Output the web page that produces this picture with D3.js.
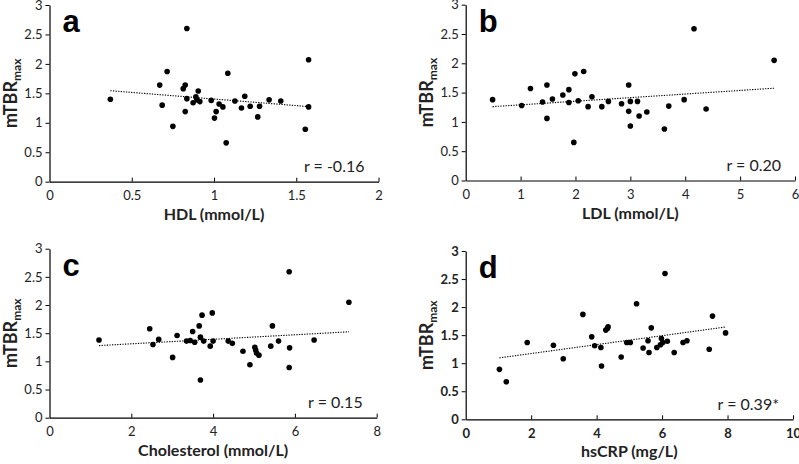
<!DOCTYPE html>
<html><head><meta charset="utf-8">
<script src="https://cdn.jsdelivr.net/npm/d3@7"></script>
<style>
html,body{margin:0;padding:0;background:#fff;}
svg text{font-family:Lato,"Open Sans",sans-serif;}
</style></head>
<body><svg id="c" width="799" height="464"></svg>
<script>
// ---- data ----
const yTicks = [0, 0.5, 1, 1.5, 2, 2.5, 3];
const yTickLabels = ["0", "0.5", "1", "1.5", "2", "2.5", "3"];

const hdlX = [0.37,0.67,0.685,0.715,0.75,0.835,0.813,0.825,0.825,0.835,0.873,0.904,0.89,0.896,0.914,0.983,1.003,1.013,1.031,1.054,1.074,1.084,1.127,1.167,1.187,1.22,1.266,1.277,1.335,1.406,1.555,1.575,1.575];
const hdlY = [1.40,1.64,1.30,1.87,0.94,2.60,1.58,1.64,1.19,1.41,1.34,1.54,1.44,1.39,1.36,1.38,1.08,1.19,1.32,1.27,0.66,1.84,1.37,1.25,1.45,1.28,1.10,1.28,1.39,1.37,0.89,2.07,1.27];
const hdlTicks = [0, 0.5, 1, 1.5, 2];
const hdlTickLabels = ["0", "0.5", "1", "1.5", "2"];
const hdlTrend = [[0.37, 1.545], [1.575, 1.275]];

const ldlX = [0.49,1.02,1.18,1.40,1.48,1.48,1.58,1.77,1.88,1.88,1.97,1.99,2.05,2.15,2.23,2.30,2.48,2.60,2.84,2.97,2.97,3.00,3.00,3.13,3.16,3.30,3.62,3.70,3.98,4.16,4.38,5.62];
const ldlY = [1.38,1.28,1.57,1.34,1.63,1.06,1.39,1.46,1.55,1.33,0.65,1.82,1.36,1.86,1.26,1.43,1.26,1.35,1.31,1.63,1.18,1.35,0.93,1.35,1.10,1.17,0.88,1.27,1.38,2.59,1.22,2.05];
const ldlTicks = [0, 1, 2, 3, 4, 5, 6];
const ldlTickLabels = ["0", "1", "2", "3", "4", "5", "6"];
const ldlTrend = [[0.49, 1.26], [5.62, 1.575]];

const cholX = [1.21,2.45,2.53,2.67,3.01,3.12,3.35,3.44,3.50,3.55,3.66,3.69,3.69,3.73,3.77,3.93,3.98,4.00,4.37,4.47,4.73,4.90,5.02,5.04,5.06,5.12,5.41,5.45,5.60,5.86,5.87,5.86,6.47,7.32];
const cholY = [1.38,1.58,1.30,1.39,1.07,1.46,1.36,1.37,1.53,1.34,1.63,0.67,1.43,1.82,1.36,1.27,1.86,1.36,1.36,1.32,1.18,0.94,1.25,1.20,1.15,1.11,1.27,1.63,1.36,2.59,1.24,0.89,1.38,2.05];
const cholTicks = [0, 2, 4, 6, 8];
const cholTickLabels = ["0", "2", "4", "6", "8"];
const cholTrend = [[1.21, 1.28], [7.32, 1.525]];

const crpX = [1.03,1.24,1.88,2.68,2.98,3.58,3.85,3.94,4.13,4.15,4.28,4.35,4.33,4.75,4.92,5.03,5.22,5.42,5.57,5.60,5.67,5.84,5.95,5.98,6.02,6.09,6.16,6.37,6.64,6.76,7.44,7.54,7.94];
const crpY = [0.89,0.67,1.37,1.32,1.08,1.87,1.47,1.31,1.28,0.95,1.59,1.65,1.62,1.11,1.37,1.37,2.06,1.27,1.40,1.19,1.63,1.28,1.33,1.44,1.37,2.60,1.39,1.19,1.37,1.40,1.25,1.84,1.54];
const crpTicks = [0, 2, 4, 6, 8, 10];
const crpTickLabels = ["0", "2", "4", "6", "8", "10"];
const crpTrend = [[1.03, 1.095], [7.94, 1.645]];

const panelLetters = ["a", "b", "c", "d"];
const xTitles = ["HDL (mmol/L)", "LDL (mmol/L)", "Cholesterol (mmol/L)", "hsCRP (mg/L)"];
const rLabels = ["r = -0.16", "r = 0.20", "r = 0.15", "r = 0.39*"];
const yTitle = "mTBR";
const yTitleSub = "max";

// ---- layout ----
const svg = d3.select("#c");
const panels = [
  {x: hdlX, y: hdlY, ticks: hdlTicks, tl: hdlTickLabels, trend: hdlTrend, xmax: 2,
   L: 49.5, R: 378.5, B: 181.7, T: 5, bold: false},
  {x: ldlX, y: ldlY, ticks: ldlTicks, tl: ldlTickLabels, trend: ldlTrend, xmax: 6,
   L: 465.7, R: 795, B: 180.5, T: 4.7, bold: false},
  {x: cholX, y: cholY, ticks: cholTicks, tl: cholTickLabels, trend: cholTrend, xmax: 8,
   L: 49.5, R: 376.7, B: 417.7, T: 248.7, bold: false},
  {x: crpX, y: crpY, ticks: crpTicks, tl: crpTickLabels, trend: crpTrend, xmax: 10,
   L: 465.7, R: 793, B: 419.3, T: 251, bold: true}
];

panels.forEach((p, i) => {
  const g = svg.append("g");
  const xs = d3.scaleLinear().domain([0, p.xmax]).range([p.L, p.R]);
  const ys = d3.scaleLinear().domain([0, 3]).range([p.B, p.T]);
  const fw = p.bold ? "bold" : "normal";

  const yAxis = d3.axisLeft(ys).tickValues(yTicks).tickFormat((d, k) => yTickLabels[k]).tickSize(4).tickPadding(3).tickSizeOuter(0);
  const ya = g.append("g").attr("transform", `translate(${p.L},0)`).call(yAxis);
  const xAxis = d3.axisBottom(xs).tickValues(p.ticks).tickFormat((d, k) => p.tl[k]).tickSize(-4).tickPadding(6).tickSizeOuter(0);
  const xa = g.append("g").attr("transform", `translate(0,${p.B})`).call(xAxis);
  [ya, xa].forEach(a => {
    a.select(".domain").attr("stroke", "#000").attr("stroke-width", 1.2);
    a.selectAll(".tick line").attr("stroke", "#000").attr("stroke-width", 1);
    a.selectAll(".tick text").attr("fill", "#222").style("font-size", "13px").style("font-weight", fw);
  });
  xa.selectAll(".tick text").attr("dy", "0.95em");
  // hide the x tick at 0 (axis corner)
  xa.selectAll(".tick line").filter(d => d === 0).remove();

  // trend line
  g.append("line")
    .attr("x1", xs(p.trend[0][0])).attr("y1", ys(p.trend[0][1]))
    .attr("x2", xs(p.trend[1][0])).attr("y2", ys(p.trend[1][1]))
    .attr("stroke", "#000").attr("stroke-width", 1.1).attr("stroke-dasharray", "1.3,1.3");

  // points
  g.selectAll("circle.pt").data(p.x.map((v, k) => [v, p.y[k]])).join("circle")
    .attr("class", "pt").attr("cx", d => xs(d[0])).attr("cy", d => ys(d[1])).attr("r", 2.8).attr("fill", "#000");

  // panel letter
  g.append("text").attr("x", p.L + 13).attr("y", p.T + 27)
    .style("font-family", "'Liberation Sans',Arial,sans-serif").style("font-weight", "bold").style("font-size", "31px")
    .text(panelLetters[i]);

  // r label
  g.append("text").attr("x", p.R - 14).attr("y", p.B - 9.5).attr("text-anchor", "end")
    .style("font-size", "16px").attr("fill", "#222").text(rLabels[i]);

  // x title
  g.append("text").attr("x", (p.L + p.R) / 2).attr("y", p.B + 38).attr("text-anchor", "middle")
    .style("font-size", "16px").style("font-weight", "bold").attr("fill", "#222").text(xTitles[i]);

  // y title
  const yt = g.append("text").attr("transform", `translate(${p.L - 33},${(p.T + p.B) / 2}) rotate(-90)`)
    .attr("text-anchor", "middle").style("font-size", "18px").style("font-weight", "bold").attr("fill", "#222");
  yt.append("tspan").text(yTitle);
  yt.append("tspan").attr("dy", 4).style("font-size", "12px").text(yTitleSub);
});
</script></body></html>
